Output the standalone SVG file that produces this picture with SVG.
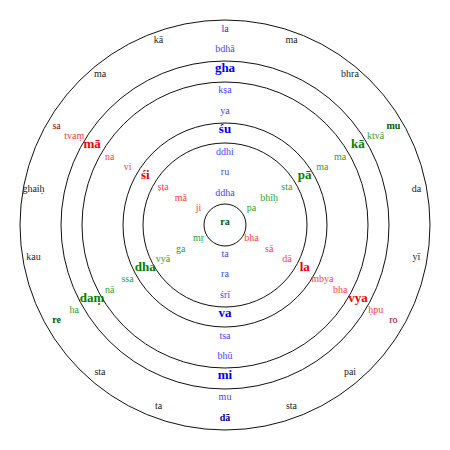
<svg xmlns="http://www.w3.org/2000/svg" width="450" height="450" viewBox="0 0 450 450">
<style>
text{font-family:"Liberation Serif","Times New Roman",serif;font-size:10px;text-anchor:middle}
.b{font-weight:bold;font-size:13px}
.k{fill:#222}
.bl{fill:#4545ff}.blb{fill:#0000ee}
.rd{fill:#ff3c3c}.rdb{fill:#ee0000}
.gr{fill:#30a030}.grb{fill:#008000}
.dg{fill:#005a00;font-weight:bold}.dr{fill:#b00000}.db{fill:#000090;font-weight:bold}.tb{fill:#1f1fdd}
circle{fill:none;stroke:#111;stroke-width:1}
</style>
<rect width="450" height="450" fill="#fff"/>
<g id="rings">
<circle cx="225" cy="225" r="205"/>
<circle cx="225" cy="225" r="164"/>
<circle cx="225" cy="225" r="143"/>
<circle cx="225" cy="225" r="102"/>
<circle cx="225" cy="225" r="82"/>
<circle cx="225" cy="225" r="21"/>
</g>
<g id="center"><text class="dg" x="225" y="225">ra</text></g>
<g id="ray-n">
<text class="bl" x="225" y="195.5">ddha</text>
<text class="bl" x="225" y="175">ru</text>
<text class="bl" x="225" y="154.5">ddhi</text>
<text class="b blb" x="225" y="133">śu</text>
<text class="bl" x="225" y="113.5">ya</text>
<text class="bl" x="225" y="93">kṣa</text>
<text class="b blb" x="225" y="71.5">gha</text>
<text class="bl" x="225" y="52">bdhā</text>
<text class="tb" x="225" y="31.5">la</text>
</g>
<g id="ray-ne">
<text class="gr" x="251.4" y="210.75">pa</text>
<text class="gr" x="269.2" y="200.5">bhīḥ</text>
<text class="gr" x="286.9" y="190.25">sta</text>
<text class="b grb" x="304.7" y="179">pā</text>
<text class="gr" x="322.4" y="169.75">ma</text>
<text class="gr" x="340.2" y="159.5">ma</text>
<text class="b grb" x="357.9" y="148.25">kā</text>
<text class="gr" x="375.7" y="139">ktvā</text>
<text class="dg" x="393.4" y="128.75">mu</text>
</g>
<g id="ray-se">
<text class="rd" x="251.4" y="241.25">bha</text>
<text class="rd" x="269.2" y="251.5">sā</text>
<text class="rd" x="286.9" y="261.75">dā</text>
<text class="b rdb" x="304.7" y="271">la</text>
<text class="rd" x="322.4" y="282.25">mbya</text>
<text class="rd" x="340.2" y="292.5">bha</text>
<text class="b rdb" x="357.9" y="301.75">vya</text>
<text class="rd" x="375.7" y="313">ḥpu</text>
<text class="dr" x="393.4" y="323.25">ro</text>
</g>
<g id="ray-s">
<text class="bl" x="225" y="256.5">ta</text>
<text class="bl" x="225" y="277">ra</text>
<text class="bl" x="225" y="297.5">śrī</text>
<text class="b blb" x="225" y="317">va</text>
<text class="bl" x="225" y="338.5">tsa</text>
<text class="bl" x="225" y="359">bhū</text>
<text class="b blb" x="225" y="378.5">mi</text>
<text class="bl" x="225" y="400">mu</text>
<text class="db" x="225" y="420.5">dā</text>
</g>
<g id="ray-sw">
<text class="gr" x="198.6" y="241.25">mṛ</text>
<text class="gr" x="180.8" y="251.5">ga</text>
<text class="gr" x="163.1" y="261.75">vyā</text>
<text class="b grb" x="145.3" y="271">dha</text>
<text class="gr" x="127.6" y="282.25">ssa</text>
<text class="gr" x="109.8" y="292.5">nā</text>
<text class="b grb" x="92.1" y="301.75">daṃ</text>
<text class="gr" x="74.3" y="313">ha</text>
<text class="dg" x="56.6" y="323.25">re</text>
</g>
<g id="ray-nw">
<text class="rd" x="198.6" y="210.75">ji</text>
<text class="rd" x="180.8" y="200.5">mā</text>
<text class="rd" x="163.1" y="190.25">ṣṭa</text>
<text class="b rdb" x="145.3" y="179">śi</text>
<text class="rd" x="127.6" y="169.75">vi</text>
<text class="rd" x="109.8" y="159.5">na</text>
<text class="b rdb" x="92.1" y="148.25">mā</text>
<text class="rd" x="74.3" y="139">tvaṃ</text>
<text class="dr" x="56.6" y="128.75">sa</text>
</g>
<g id="outer-ring">
<text class="k" x="291.5" y="43.2">ma</text>
<text class="k" x="350" y="77">bhra</text>
<text class="k" x="416.5" y="192.2">da</text>
<text class="k" x="416.5" y="259.8">yī</text>
<text class="k" x="350" y="375">pai</text>
<text class="k" x="291.5" y="408.8">sta</text>
<text class="k" x="158.5" y="408.8">ta</text>
<text class="k" x="100" y="375">sta</text>
<text class="k" x="33.5" y="259.8">kau</text>
<text class="k" x="33.5" y="192.2">ghaiḥ</text>
<text class="k" x="100" y="77">ma</text>
<text class="k" x="158.5" y="43.2">kā</text>
</g>
</svg>
